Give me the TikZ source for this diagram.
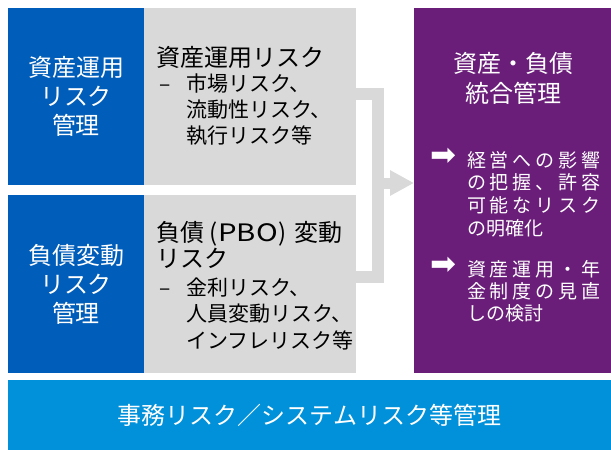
\documentclass[tikz,border=0pt]{standalone}
\usepackage{fontspec}
\usepackage{graphicx}
\setmainfont{Noto Sans CJK JP}
\newfontfamily\lsfont[LetterSpace=20]{Noto Sans CJK JP}
\newfontfamily\plainfont{Noto Sans CJK JP}
\newfontfamily\arrowfont{DejaVu Sans}
\usetikzlibrary{arrows.meta}
\definecolor{riskblue}{HTML}{005DB9}
\definecolor{riskgray}{HTML}{D9D9D9}
\definecolor{riskpurple}{HTML}{6A1E79}
\definecolor{riskbar}{HTML}{0091DA}
\begin{document}
\begin{tikzpicture}[x=1pt,y=-1pt,
  panel/.style={inner sep=0pt, outer sep=0pt, draw=none},
  bluepanel/.style={panel, fill=riskblue, text=white, align=center,
     font=\fontsize{24}{29}\selectfont},
  graypanel/.style={panel, fill=riskgray},
  head/.style={inner sep=0pt, anchor=west, align=left, text=black},
  sublist/.style={inner sep=0pt, anchor=west, align=left, text=black,
     font=\fontsize{21}{26.2}\selectfont},
  conn/.style={draw=riskgray, line width=12pt, line join=miter},
  bullettext/.style={inner sep=0pt, anchor=west, align=left, text=white},
  arrowbullet/.style={inner sep=0pt, text=white, font=\arrowfont\fontsize{31}{31}\selectfont}
]
\useasboundingbox (0,0) rectangle (611,450);

% panels
\node[bluepanel, minimum width=136pt, minimum height=177pt] (ra) at (76,96.5) {資産運用\\リスク\\管理};
\node[graypanel, minimum width=212pt, minimum height=177pt] (ga) at (250,96.5) {};
\node[bluepanel, minimum width=136pt, minimum height=178pt] (rb) at (76,284) {負債変動\\リスク\\管理};
\node[graypanel, minimum width=212pt, minimum height=178pt] (gb) at (250,284) {};
\node[panel, fill=riskpurple, minimum width=197pt, minimum height=365pt] (pu) at (512.5,190.5) {};
\node[panel, fill=riskbar, text=white, minimum width=603pt, minimum height=70pt,
      font=\fontsize{24}{29}\selectfont] (bar) at (309.5,415) {事務リスク／システムリスク等管理};

% gray panel texts
\node[head, font=\fontsize{24}{29}\selectfont] (ha) at (156,57) {資産運用リスク};
\node[sublist] (la) at (159,109.5) {\makebox[27pt][l]{–}市場リスク、\\\hspace*{27pt}流動性リスク、\\\hspace*{27pt}執行リスク等};
\node[head, font=\fontsize{24}{26}\selectfont] (hb) at (156,245) {負債\hspace{5pt}(\hspace{1pt}\scalebox{1.22}[1]{PBO}\hspace{1pt})\hspace{8pt}変動\\リスク};
\node[sublist, font=\fontsize{21}{26.5}\selectfont] (lb) at (159,313.5) {\makebox[27pt][l]{–}金利リスク、\\\hspace*{27pt}人員変動リスク、\\\hspace*{27pt}インフレリスク等};

% purple texts
\node[inner sep=0pt, text=white, align=center, font=\fontsize{24}{30}\selectfont] (pt) at (513,78) {資産・負債\\統合管理};
\node[arrowbullet] (a1) at (443,157) {➡};
\node[bullettext, font=\fontsize{19}{22.7}\selectfont] (b1) at (467,194) {{\lsfont 経営への影響}\\{\lsfont の把握、許容}\\{\lsfont 可能なリスク}\\{\plainfont の明確化}};
\node[arrowbullet] (a2) at (443,266) {➡};
\node[bullettext, font=\fontsize{19}{22}\selectfont] (b2) at (467,291) {{\lsfont 資産運用・年}\\{\lsfont 金制度の見直}\\{\plainfont しの検討}};

% connector
\coordinate (j1) at (378,94);
\coordinate (j2) at (378,276.5);
\coordinate (j3) at (378,183);
\draw[conn] (ga.east |- j1) -- (j1) -- (j2) -- (gb.east |- j2);
\draw[draw=riskgray, line width=11pt, -{Triangle[length=24pt,width=24pt]}, fill=riskgray]
  (j3) -- (pu.west |- j3);
\end{tikzpicture}
\end{document}
